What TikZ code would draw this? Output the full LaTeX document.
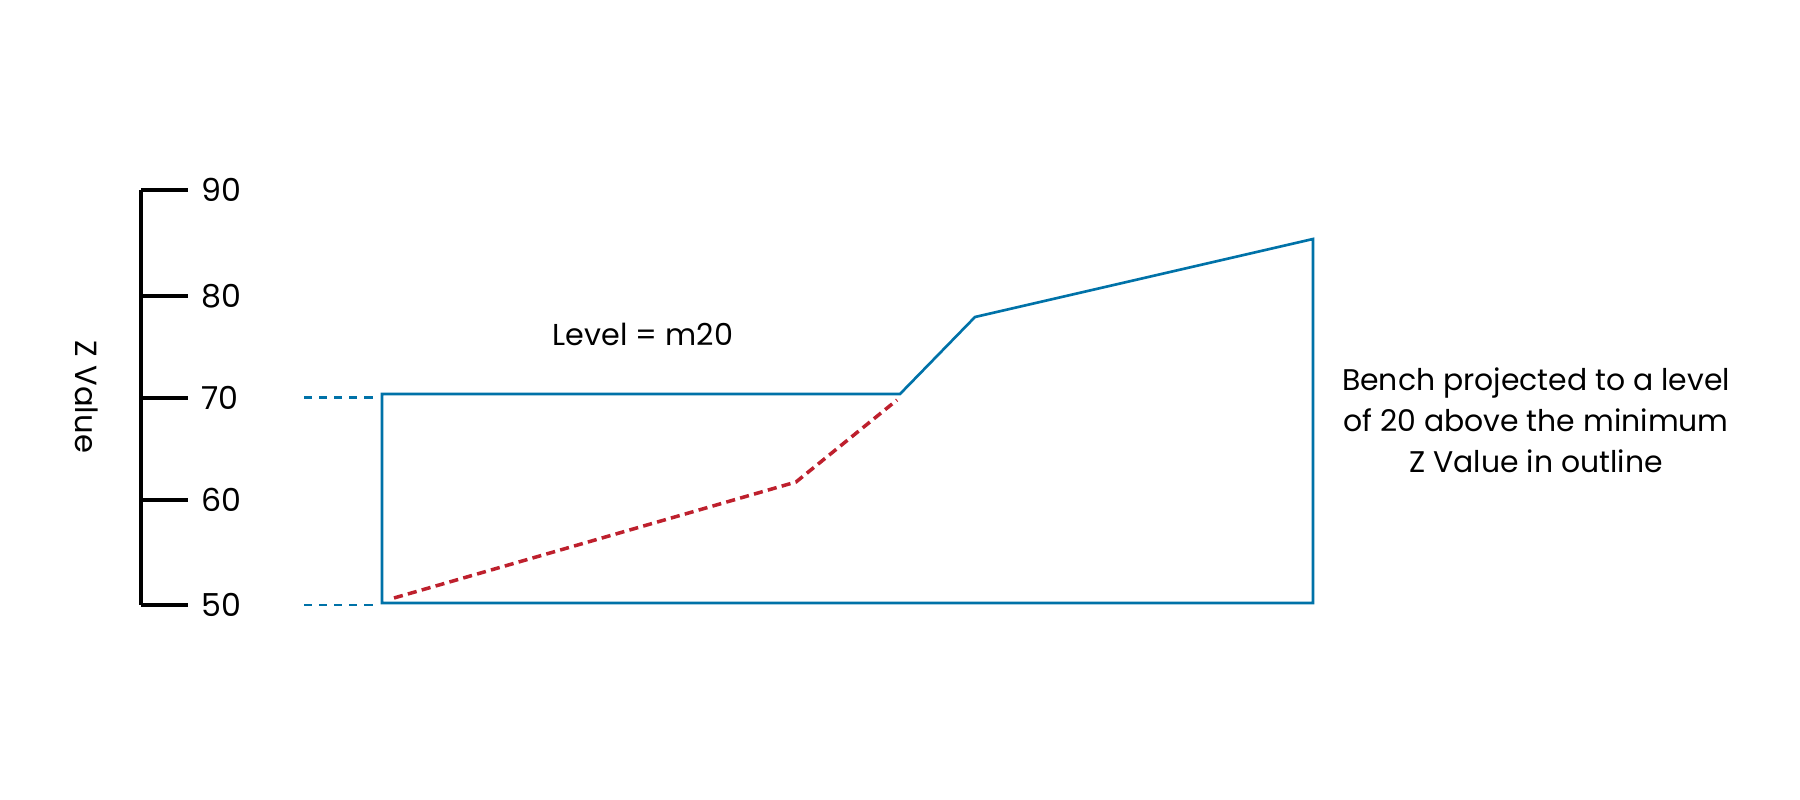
\documentclass[tikz,border=0pt]{standalone}
\usepackage{fontspec}
\setmainfont{Poppins}
\usetikzlibrary{positioning}
\definecolor{outlineblue}{RGB}{0,114,168}
\definecolor{benchred}{RGB}{190,32,45}
\tikzset{
  axisline/.style={line width=1.1pt},
  outline/.style={outlineblue, line width=0.75pt, line join=miter},
  leveldash/.style={outlineblue, line width=0.85pt, dash pattern=on 2.3pt off 2pt},
  benchdash/.style={benchred, line width=1pt, dash pattern=on 2.6pt off 1.5pt},
  ticklabel/.style={font=\fontsize{9}{10}\selectfont, inner sep=0pt, anchor=west}
}
\begin{document}
\begin{tikzpicture}[x=0.1mm,y=-0.1mm]
  \useasboundingbox (0,0) rectangle (1800,800);
  % Z axis with ticks
  \coordinate (axtop) at (141,190);
  \coordinate (axbot) at (141,605);
  \draw[axisline] (axtop) -- (axbot);
  \foreach \z/\y in {90/190,80/296,70/398,60/500,50/605} {
    \coordinate (tickin\z) at (141,\y);
    \coordinate (tick\z) at (188,\y);
    \draw[axisline] (tickin\z) -- (tick\z);
    \node[ticklabel] (lab\z) at (201,\y) {\z};
  }
  \node[rotate=-90, font=\fontsize{8.7}{10}\selectfont] (zlabel) at (87,397) {Z Value};
  % Outline of the bench
  \coordinate (ptl) at (382,394);
  \coordinate (pbr) at (900,394);
  \coordinate (ptoe) at (975,317);
  \coordinate (ptr) at (1313,239);
  \coordinate (pbr2) at (1313,603);
  \coordinate (pbl) at (382,603);
  \draw[outline] (ptl) -- (pbr) -- (ptoe) -- (ptr) -- (pbr2) -- (pbl) -- cycle;
  % Level guides
  \coordinate (g70) at (304,398);
  \coordinate (g70e) at (373,398);
  \coordinate (g50) at (304,605);
  \coordinate (g50e) at (373,605);
  \draw[leveldash] (g70) -- (g70e);
  \draw[leveldash] (g50) -- (g50e);
  % Projected bench
  \coordinate (r1) at (394,598);
  \coordinate (r2) at (796,482);
  \coordinate (r3) at (897,400);
  \draw[benchdash] (r1) -- (r2) -- (r3);
  % Labels
  \node[font=\fontsize{8.6}{10}\selectfont] (level) at (643,334) {Level = m20};
  \node[font=\fontsize{8.5}{11.7}\selectfont, align=center] (note) at (1536,420)
    {Bench projected to a level\\of 20 above the minimum\\Z Value in outline};
\end{tikzpicture}
\end{document}
